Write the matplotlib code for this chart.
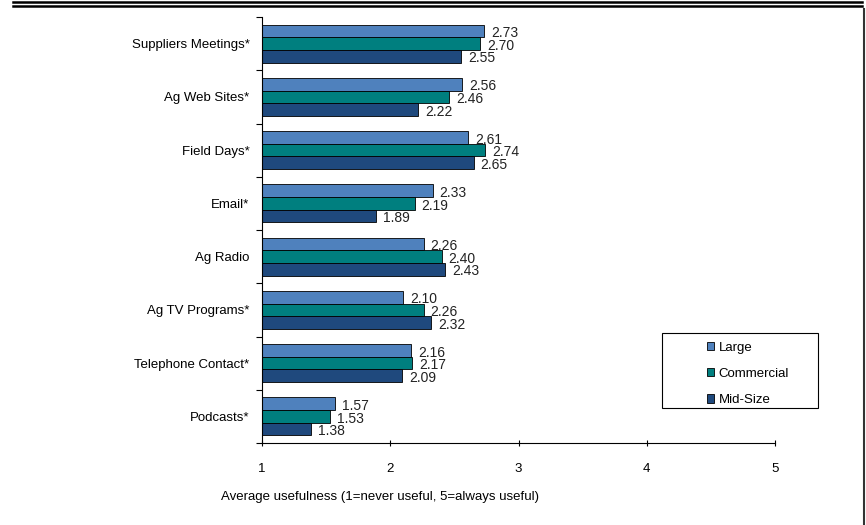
import matplotlib.pyplot as plt
from matplotlib.lines import Line2D
from matplotlib.patches import Rectangle
import numpy as np

CATEGORIES = ["Suppliers Meetings*", "Ag Web Sites*", "Field Days*", "Email*",
              "Ag Radio", "Ag TV Programs*", "Telephone Contact*", "Podcasts*"]
LARGE = [2.73, 2.56, 2.61, 2.33, 2.26, 2.10, 2.16, 1.57]
COMMERCIAL = [2.70, 2.46, 2.74, 2.19, 2.40, 2.26, 2.17, 1.53]
MID_SIZE = [2.55, 2.22, 2.65, 1.89, 2.43, 2.32, 2.09, 1.38]
SERIES = ["Large", "Commercial", "Mid-Size"]
COLORS = ["#4f81bd", "#007f7f", "#1f497d"]

plt.rcParams["font.family"] = ["Liberation Sans", "DejaVu Sans"]

fig = plt.figure(figsize=(8.66, 5.25), dpi=100)
W, H = 866, 525
ax = fig.add_axes([262 / W, 1 - 443 / H, (775 - 262) / W, (443 - 17) / H])

n = len(CATEGORIES)
centers = np.arange(n)[::-1] + 0.5
bh = 0.237
handles = []
for k, (vals, name, col) in enumerate(zip([LARGE, COMMERCIAL, MID_SIZE], SERIES, COLORS)):
    y = centers + (1 - k) * bh
    bars = ax.barh(y, vals, height=bh, color=col, edgecolor="black", linewidth=0.6, label=name)
    handles.append(bars)
    for yy, v in zip(y, vals):
        ax.text(v + 0.055, yy - 0.04, f"{v:.2f}", va="center", ha="left", fontsize=10,
                color="#222222")

ax.set_xlim(1, 5)
ax.set_ylim(0, n)
ax.set_xticks([1, 2, 3, 4, 5])
ax.set_yticks(np.arange(n + 1), minor=False)
ax.set_yticklabels([])
ax.set_yticks(centers, minor=True)
ax.set_yticklabels(CATEGORIES, minor=True, fontsize=9.5)
ax.tick_params(axis="y", which="major", length=4, direction="out")
ax.tick_params(axis="y", which="minor", length=0, pad=9)
ax.tick_params(axis="x", length=5, direction="inout", pad=12, labelsize=9.5)
for s in ["top", "right"]:
    ax.spines[s].set_visible(False)

# legend box with the entries set in from its left edge
fig.add_artist(Rectangle((662 / W, 1 - 408 / H), 156 / W, 75 / H, transform=fig.transFigure,
                         facecolor="white", edgecolor="black", linewidth=0.8, zorder=2))
leg = fig.legend(handles, SERIES, loc="upper left", bbox_to_anchor=(696 / W, 1 - 331 / H),
                 fontsize=9.5, frameon=False, handlelength=0.6, handleheight=0.6,
                 handletextpad=0.3, labelspacing=1.08, borderpad=0.3)
leg.set_zorder(5)

fig.text(221 / W, 1 - 497 / H, "Average usefulness (1=never useful, 5=always useful)",
         fontsize=9.5, ha="left", va="center")

# frame lines
fig.add_artist(Line2D([13 / W, 862 / W], [1 - 2 / H, 1 - 2 / H], color="black", lw=1.8))
fig.add_artist(Line2D([13 / W, 862 / W], [1 - 6 / H, 1 - 6 / H], color="black", lw=1.8))
fig.add_artist(Line2D([864 / W, 864 / W], [0, 1 - 9 / H], color="#333333", lw=1.5))

fig.savefig("out.png", dpi=100)
